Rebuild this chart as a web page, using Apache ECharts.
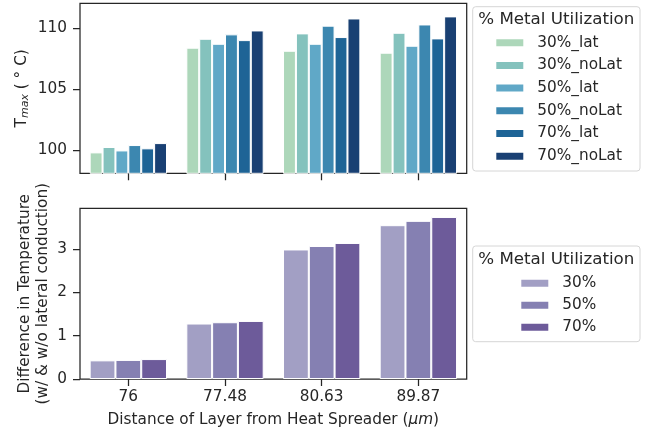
<!DOCTYPE html>
<html>
<head>
<meta charset="utf-8">
<script src="https://cdn.jsdelivr.net/npm/echarts@6/dist/echarts.min.js"></script>
<style>
html,body{margin:0;padding:0;background:#fff;}
#chart{width:646px;height:431px;}
</style>
</head>
<body>
<div id="chart"></div>
<script>
const categories = ['76', '77.48', '80.63', '89.87'];

const tmax30Lat   = [99.81, 108.37, 108.12, 107.96];
const tmax30NoLat = [100.25, 109.10, 109.54, 109.59];
const tmax50Lat   = [99.97, 108.69, 108.69, 108.53];
const tmax50NoLat = [100.41, 109.46, 110.17, 110.27];
const tmax70Lat   = [100.14, 108.99, 109.24, 109.13];
const tmax70NoLat = [100.57, 109.78, 110.76, 110.93];

const diff30 = [0.43, 1.28, 2.99, 3.55];
const diff50 = [0.44, 1.31, 3.07, 3.65];
const diff70 = [0.46, 1.34, 3.14, 3.74];

const topTicks = [100, 105, 110];
const bottomTicks = [0, 1, 2, 3];

const topNames = ['30%_lat', '30%_noLat', '50%_lat', '50%_noLat', '70%_lat', '70%_noLat'];
const topColors = ['#add7ba', '#84c2bd', '#60a8c7', '#3c87b0', '#1e6496', '#194073'];
const topData = [tmax30Lat, tmax30NoLat, tmax50Lat, tmax50NoLat, tmax70Lat, tmax70NoLat];

const botNames = ['30%', '50%', '70%'];
const botColors = ['#a29fc4', '#8580b2', '#6d5b9a'];
const botData = [diff30, diff50, diff70];

const FONT = 'DejaVu Sans';
const INK = '#262626';
const FS = 15.3;
const TFS = 16.7;

const chart = echarts.init(document.getElementById('chart'), null, {renderer: 'canvas'});

const series = [];
topNames.forEach((n, i) => series.push({
  name: n, type: 'bar', xAxisIndex: 0, yAxisIndex: 0,
  data: topData[i], barGap: '0%', barCategoryGap: '20%',
  itemStyle: {color: topColors[i], borderColor: '#ffffff', borderWidth: 1},
  emphasis: {disabled: true}
}));
botNames.forEach((n, i) => series.push({
  name: n, type: 'bar', xAxisIndex: 1, yAxisIndex: 1,
  data: botData[i], barGap: '0%', barCategoryGap: '20%',
  itemStyle: {color: botColors[i], borderColor: '#ffffff', borderWidth: 1},
  emphasis: {disabled: true}
}));

const tickStyle = {show: true, length: 7, lineStyle: {color: INK, width: 1.25}};
const labelStyle = {color: INK, fontFamily: FONT, fontSize: FS};

chart.setOption({
  animation: false,
  backgroundColor: '#ffffff',
  grid: [
    {left: 80, top: 3.3, width: 386.7, height: 170, show: true, borderColor: INK, borderWidth: 1.25, backgroundColor: 'transparent'},
    {left: 80, top: 208.3, width: 386.7, height: 170.7, show: true, borderColor: INK, borderWidth: 1.25, backgroundColor: 'transparent'}
  ],
  xAxis: [
    {type: 'category', gridIndex: 0, data: categories,
     axisLine: {show: false}, axisTick: Object.assign({alignWithLabel: true}, tickStyle),
     axisLabel: {show: false}, splitLine: {show: false}},
    {type: 'category', gridIndex: 1, data: categories,
     axisLine: {show: false}, axisTick: Object.assign({alignWithLabel: true}, tickStyle),
     axisLabel: Object.assign({margin: 11}, labelStyle), splitLine: {show: false}}
  ],
  yAxis: [
    {type: 'value', gridIndex: 0, min: 98.1, max: 112,
     axisLine: {show: false},
     axisTick: Object.assign({customValues: topTicks}, tickStyle),
     axisLabel: Object.assign({customValues: topTicks, margin: 13}, labelStyle),
     splitLine: {show: false}},
    {type: 'value', gridIndex: 1, min: 0, max: 3.94,
     axisLine: {show: false},
     axisTick: Object.assign({customValues: bottomTicks}, tickStyle),
     axisLabel: Object.assign({customValues: bottomTicks, margin: 13}, labelStyle),
     splitLine: {show: false}}
  ],
  legend: [
    {data: topNames, orient: 'vertical', left: 494.3, top: 35.2, padding: 0, itemWidth: 29, itemHeight: 9,
     itemGap: 7.7, icon: 'rect', selectedMode: false,
     textStyle: {color: INK, fontFamily: FONT, fontSize: FS, lineHeight: 15, padding: [0, 0, 0, 8]}},
    {data: botNames, orient: 'vertical', left: 519.3, top: 275.8, padding: 0, itemWidth: 29, itemHeight: 9,
     itemGap: 7.0, icon: 'rect', selectedMode: false,
     textStyle: {color: INK, fontFamily: FONT, fontSize: FS, lineHeight: 15, padding: [0, 0, 0, 8]}}
  ],
  graphic: [
    {type: 'rect', z: 0, shape: {x: 472.7, y: 6.7, width: 167.3, height: 164.3, r: 3},
     style: {fill: '#ffffff', stroke: '#d6d6d6', lineWidth: 1}},
    {type: 'text', z: 1, x: 556.3, y: 19.5,
     style: {text: '% Metal Utilization', fill: INK, font: TFS + 'px "DejaVu Sans"', align: 'center', verticalAlign: 'middle', textAlign: 'center', textVerticalAlign: 'middle'}},
    {type: 'rect', z: 0, shape: {x: 472.7, y: 246, width: 167.3, height: 95.7, r: 3},
     style: {fill: '#ffffff', stroke: '#d6d6d6', lineWidth: 1}},
    {type: 'text', z: 1, x: 556.3, y: 259.3,
     style: {text: '% Metal Utilization', fill: INK, font: TFS + 'px "DejaVu Sans"', align: 'center', verticalAlign: 'middle', textAlign: 'center', textVerticalAlign: 'middle'}},
    {type: 'text', z: 1, x: 22, y: 88.3, rotation: Math.PI / 2,
     style: {text: '{n|T}{s|max}{n| ( ° C)}', fill: INK, align: 'center', verticalAlign: 'middle', textAlign: 'center', textVerticalAlign: 'middle',
       rich: {n: {fontFamily: FONT, fontSize: FS, fill: INK, lineHeight: 19}, s: {fontFamily: FONT, fontSize: 11, fontStyle: 'italic', fill: INK, padding: [7, 0, 0, 0], lineHeight: 19}}}},
    {type: 'text', z: 1, x: 34, y: 293.7, rotation: Math.PI / 2,
     style: {text: 'Difference in Temperature\n(w/ & w/o lateral conduction)', fill: INK, font: FS + 'px "DejaVu Sans"', lineHeight: 18,
       align: 'center', verticalAlign: 'middle', textAlign: 'center', textVerticalAlign: 'middle'}},
    {type: 'text', z: 1, x: 273.3, y: 420,
     style: {text: '{n|Distance of Layer from Heat Spreader (}{i|μm}{n|)}', fill: INK, align: 'center', verticalAlign: 'middle', textAlign: 'center', textVerticalAlign: 'middle',
       rich: {n: {fontFamily: FONT, fontSize: FS, fill: INK}, i: {fontFamily: FONT, fontSize: FS, fontStyle: 'italic', fill: INK}}}}
  ],
  series: series
});
</script>
</body>
</html>
